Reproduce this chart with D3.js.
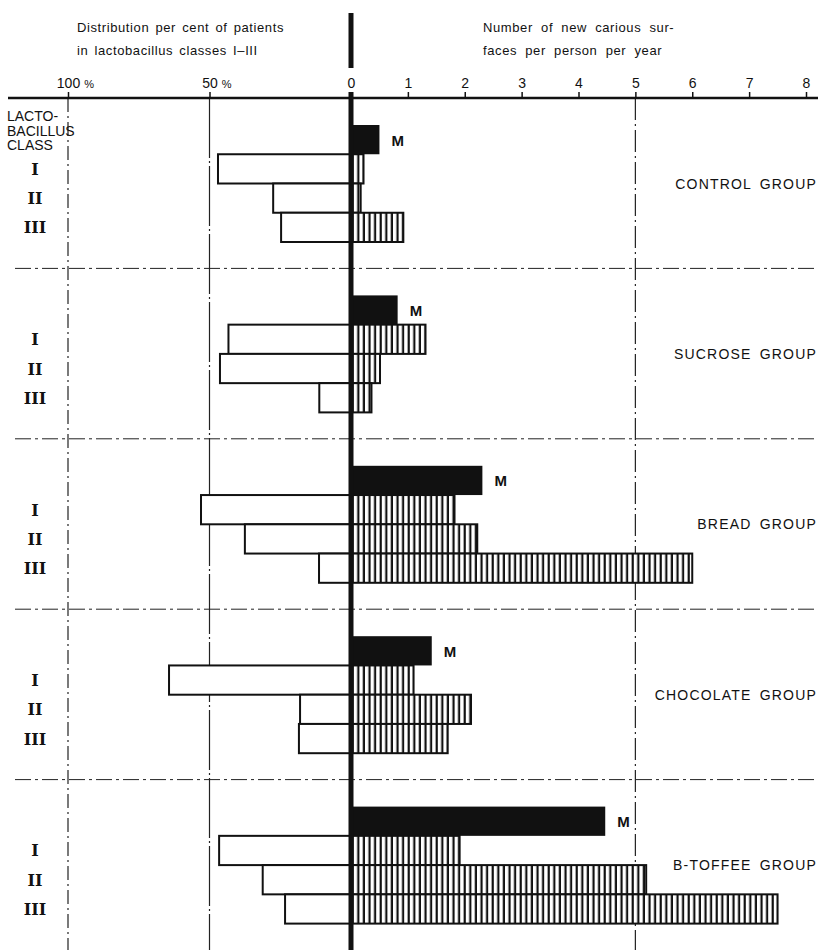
<!DOCTYPE html>
<html>
<head>
<meta charset="utf-8">
<script src="https://cdn.jsdelivr.net/npm/d3@7"></script>
<style>
  html, body { margin: 0; padding: 0; background: #fff; }
  svg text { font-family: "Liberation Sans", "DejaVu Sans", sans-serif; fill: #111; }
</style>
</head>
<body>
<div id="chart-container"></div>
<script>
/**************************************************
 * Data
 **************************************************/

// Experimental groups, top to bottom
const groups = ["CONTROL GROUP", "SUCROSE GROUP", "BREAD GROUP", "CHOCOLATE GROUP", "B-TOFFEE GROUP"];
// Lactobacillus classes
const classes = ["I", "II", "III"];
// Mean number of new carious surfaces per person per year (black bar "M")
const meanCaries = [0.5, 0.82, 2.31, 1.42, 4.47];
// Distribution per cent of patients in classes I-III (left side)
const classPercent = [
  [47, 27.5, 24.7],
  [43.3, 46.3, 11.2],
  [53, 37.5, 11.3],
  [64.3, 18, 18.4],
  [46.6, 31.2, 23.3]
];
// New carious surfaces per person per year by class (right side, hatched)
const classCaries = [
  [0.22, 0.17, 0.92],
  [1.31, 0.51, 0.36],
  [1.82, 2.22, 6.0],
  [1.1, 2.11, 1.7],
  [1.91, 5.19, 7.5]
];
// Tick labels
const cariesTicks = [0, 1, 2, 3, 4, 5, 6, 7, 8];
const percentTicks = [100, 50];

/**************************************************
 * Rendering
 **************************************************/

const width = 821, height = 950;
const axisY = 98, zeroX = 351;

const svg = d3.select("#chart-container")
  .append("svg")
  .attr("width", width)
  .attr("height", height);

const xRight = d3.scaleLinear().domain([0, 8]).range([zeroX, 806]);
const xLeft = d3.scaleLinear().domain([0, 100]).range([zeroX, 68]);
const yGroup = d3.scaleBand().domain(groups).range([axisY, 950]);
const yRow = d3.scaleBand().domain(["M"].concat(classes)).range([27, 144]);

// vertical hatching for the class bars
const defs = svg.append("defs");
const pat = defs.append("pattern")
  .attr("id", "hatch")
  .attr("patternUnits", "userSpaceOnUse")
  .attr("x", zeroX)
  .attr("width", 5.6)
  .attr("height", 10);
pat.append("rect").attr("width", 5.6).attr("height", 10).attr("fill", "#fff");
pat.append("rect").attr("x", 0.6).attr("width", 2.2).attr("height", 10).attr("fill", "#111");

// titles
const title = svg.append("g").attr("font-size", "13px").attr("letter-spacing", "0.6px").attr("word-spacing", "2px");
title.append("text").attr("x", 77).attr("y", 32).text("Distribution per cent of patients");
title.append("text").attr("x", 77).attr("y", 55).text("in lactobacillus classes I\u2013III");
title.append("text").attr("x", 483).attr("y", 32).attr("word-spacing", "4px").text("Number of new carious sur-");
title.append("text").attr("x", 483).attr("y", 55).attr("word-spacing", "4px").text("faces per person per year");

// group separators (dash-dot)
svg.selectAll("line.sep")
  .data(groups.slice(1))
  .enter()
  .append("line")
  .attr("class", "sep")
  .attr("x1", 15).attr("x2", 818)
  .attr("y1", d => yGroup(d)).attr("y2", d => yGroup(d))
  .attr("stroke", "#222")
  .attr("stroke-width", 1)
  .attr("stroke-dasharray", "16,4,3,4");

// vertical reference lines at 100 %, 50 % and 5 surfaces
const refLines = [
  { x: xLeft(100), dash: "14,4,2,4" },
  { x: xLeft(50), dash: "60,3,2,3" },
  { x: xRight(5), dash: "22,4,2,4" }
];
svg.selectAll("line.ref")
  .data(refLines)
  .enter()
  .append("line")
  .attr("class", "ref")
  .attr("x1", d => d.x).attr("x2", d => d.x)
  .attr("y1", axisY).attr("y2", height)
  .attr("stroke", "#222")
  .attr("stroke-width", 1.2)
  .attr("stroke-dasharray", d => d.dash);

// one group element per experimental group
const g = svg.selectAll("g.group")
  .data(groups)
  .enter()
  .append("g")
  .attr("class", "group")
  .attr("transform", d => `translate(0,${yGroup(d)})`);

// left bars: per cent of patients
g.selectAll("rect.pct")
  .data((d, i) => classes.map((c, j) => ({ c, v: classPercent[i][j] })))
  .enter()
  .append("rect")
  .attr("class", "pct")
  .attr("x", d => xLeft(d.v))
  .attr("y", d => yRow(d.c))
  .attr("width", d => zeroX - xLeft(d.v))
  .attr("height", yRow.bandwidth())
  .attr("fill", "#fff")
  .attr("stroke", "#111")
  .attr("stroke-width", 2);

// right hatched bars: caries per class
g.selectAll("rect.car")
  .data((d, i) => classes.map((c, j) => ({ c, v: classCaries[i][j] })))
  .enter()
  .append("rect")
  .attr("class", "car")
  .attr("x", zeroX)
  .attr("y", d => yRow(d.c))
  .attr("width", d => xRight(d.v) - zeroX)
  .attr("height", yRow.bandwidth())
  .attr("fill", "url(#hatch)")
  .attr("stroke", "#111")
  .attr("stroke-width", 2);

// black mean bars
g.append("rect")
  .attr("x", zeroX)
  .attr("y", yRow("M"))
  .attr("width", (d, i) => xRight(meanCaries[i]) - zeroX)
  .attr("height", yRow.bandwidth())
  .attr("fill", "#111");

g.append("text")
  .attr("x", (d, i) => xRight(meanCaries[i]) + 12)
  .attr("y", yRow("M") + yRow.bandwidth() / 2 + 6)
  .attr("font-size", "15px")
  .attr("font-weight", "bold")
  .text("M");

// group names, right aligned at the I/II boundary
g.append("text")
  .attr("x", 817)
  .attr("y", yRow("II") + 5)
  .attr("text-anchor", "end")
  .attr("font-size", "14px")
  .attr("letter-spacing", "1.2px")
  .attr("word-spacing", "3px")
  .text(d => d);

// class numerals on the left
g.selectAll("text.cls")
  .data(classes)
  .enter()
  .append("text")
  .attr("class", "cls")
  .attr("x", 35)
  .attr("y", d => yRow(d) + yRow.bandwidth() / 2 + 6)
  .attr("text-anchor", "middle")
  .attr("font-size", "16px")
  .attr("font-weight", "bold")
  .style("font-family", "'DejaVu Serif', 'Liberation Serif', serif")
  .text(d => d);

// header of the class column
const head = svg.append("g").attr("font-size", "14px");
["LACTO-", "BACILLUS", "CLASS"].forEach((t, i) => {
  head.append("text").attr("x", 7).attr("y", 121 + i * 14.5).text(t);
});

// axes
svg.append("line")
  .attr("x1", 8).attr("x2", 818)
  .attr("y1", axisY).attr("y2", axisY)
  .attr("stroke", "#111")
  .attr("stroke-width", 2.5);

const rightAxis = svg.append("g")
  .attr("transform", `translate(0,${axisY})`)
  .call(d3.axisTop(xRight).tickValues(cariesTicks).tickFormat(d3.format("d")).tickSize(6).tickPadding(4));

const leftAxis = svg.append("g")
  .attr("transform", `translate(0,${axisY})`)
  .call(d3.axisTop(xLeft).tickValues(percentTicks).tickFormat(d3.format("d")).tickSize(6).tickPadding(4));

[rightAxis, leftAxis].forEach(ax => {
  ax.select(".domain").remove();
  ax.selectAll("line").attr("stroke", "#111").attr("stroke-width", 1.5);
  ax.selectAll("text").attr("font-size", "14px").attr("font-family", null).attr("fill", "#111");
});

// put a small per-cent sign after the number, keeping the number centred on the tick
leftAxis.selectAll("text").each(function() {
  const t = d3.select(this);
  const w = this.getComputedTextLength();
  t.attr("text-anchor", "start").attr("x", -w / 2);
  t.append("tspan").attr("font-size", "11px").attr("dx", 4).text("%");
});

// heavy zero line, broken where the "0" label sits
[[13, 68], [axisY - 6, height]].forEach(([y1, y2]) => {
  svg.append("line")
    .attr("x1", zeroX).attr("x2", zeroX)
    .attr("y1", y1).attr("y2", y2)
    .attr("stroke", "#111")
    .attr("stroke-width", 5);
});
</script>
</body>
</html>
